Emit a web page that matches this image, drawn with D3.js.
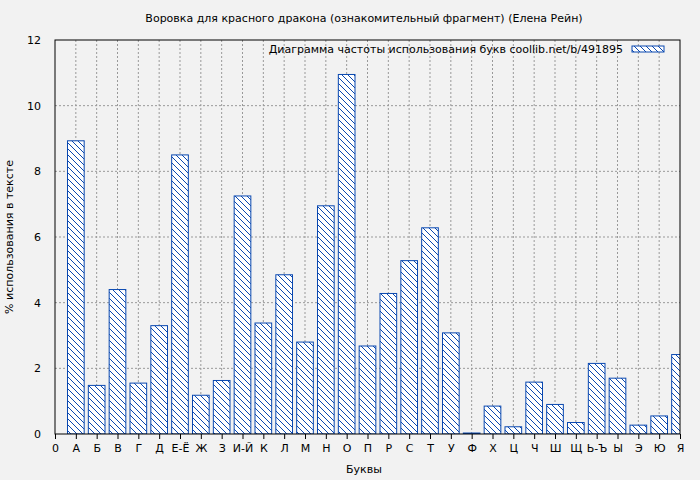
<!DOCTYPE html>
<meta charset="utf-8">
<script src="https://d3js.org/d3.v7.min.js"></script>
<style>body{margin:0;background:#f2f2f2}text{font-family:"DejaVu Sans",sans-serif;font-size:11px;fill:#000}</style>
<div id="chart"></div>
<script>
// letters and their share in the text, %
var letters = ["А","Б","В","Г","Д","Е-Ё","Ж","З","И-Й","К","Л","М","Н","О","П","Р","С","Т","У","Ф","Х","Ц","Ч","Ш","Щ","Ь-Ъ","Ы","Э","Ю","Я"];
var values = [8.93,1.48,4.4,1.55,3.3,8.5,1.18,1.63,7.25,3.38,4.85,2.8,6.95,10.95,2.68,4.28,5.28,6.28,3.08,0.03,0.85,0.22,1.58,0.9,0.35,2.15,1.7,0.27,0.55,2.42];
var yTicks = [0,2,4,6,8,10,12];

var margin = {top: 40, right: 20, bottom: 46, left: 55},
    width = 700 - margin.left - margin.right,
    height = 480 - margin.top - margin.bottom;

var svg = d3.select("#chart").append("svg")
    .attr("width", 700).attr("height", 480);

var defs = svg.append("defs");
var pat = defs.append("pattern").attr("id", "hatch")
    .attr("patternUnits", "userSpaceOnUse").attr("width", 6).attr("height", 6);
pat.append("rect").attr("width", 6).attr("height", 6).attr("fill", "#fff");
pat.append("path").attr("d", "M-1,-1 L7,7 M-4,2 L4,10 M2,-4 L10,4")
    .attr("stroke", "#0a48b0").attr("stroke-width", 1);
defs.append("clipPath").attr("id", "clip").append("rect")
    .attr("width", width).attr("height", height);

var g = svg.append("g").attr("transform", "translate(" + margin.left + "," + margin.top + ")");

var x = d3.scaleLinear().domain([0, 30]).range([0, width]);
var y = d3.scaleLinear().domain([0, 12]).range([height, 0]);

// grid
g.selectAll(".hg").data(yTicks.slice(1, -1)).enter().append("line")
  .attr("x1", 0).attr("x2", width).attr("y1", y).attr("y2", y)
  .attr("stroke", "#999").attr("stroke-dasharray", "2,2");
g.selectAll(".vg").data(d3.range(1, 30)).enter().append("line")
  .attr("y1", 0).attr("y2", height).attr("x1", x).attr("x2", x)
  .attr("stroke", "#999").attr("stroke-dasharray", "2,2");

// bars
g.append("g").attr("clip-path", "url(#clip)")
  .selectAll("rect").data(values).enter().append("rect")
  .attr("x", function(d, i) { return x(i + 1 - 0.4); })
  .attr("width", x(0.8) - x(0))
  .attr("y", function(d) { return y(d); })
  .attr("height", function(d) { return height - y(d); })
  .attr("fill", "url(#hatch)").attr("stroke", "#0a48b0").attr("stroke-width", 1);

g.append("rect").attr("width", width).attr("height", height)
  .attr("fill", "none").attr("stroke", "#000");

// axes
var ya = g.append("g").call(d3.axisLeft(y).tickValues(yTicks).tickSize(0).tickPadding(14));
ya.select(".domain").remove();
ya.selectAll("text").style("font-size", "11px").style("font-family", "DejaVu Sans");

var xa = g.append("g").attr("transform", "translate(0," + height + ")")
  .call(d3.axisBottom(x).tickValues(d3.range(0, 31)).tickSize(5).tickPadding(5)
    .tickFormat(function(d) { return d === 0 ? "0" : letters[d - 1]; }));
xa.select(".domain").remove();
xa.selectAll("line").attr("stroke", "#000");
xa.selectAll("text").style("font-size", "11px").style("font-family", "DejaVu Sans");

// titles
svg.append("text").attr("x", 364).attr("y", 22).attr("text-anchor", "middle")
  .text("Воровка для красного дракона (ознакомительный фрагмент) (Елена Рейн)");
svg.append("text").attr("x", 364).attr("y", 473).attr("text-anchor", "middle").text("Буквы");
svg.append("text").attr("transform", "translate(13,237) rotate(-90)")
  .attr("text-anchor", "middle").text("% использования в тексте");

// legend
svg.append("text").attr("x", 623).attr("y", 53).attr("text-anchor", "end")
  .text("Диаграмма частоты использования букв  coollib.net/b/491895");
svg.append("rect").attr("x", 632).attr("y", 46).attr("width", 32).attr("height", 6)
  .attr("fill", "url(#hatch)").attr("stroke", "#0a48b0");
</script>
